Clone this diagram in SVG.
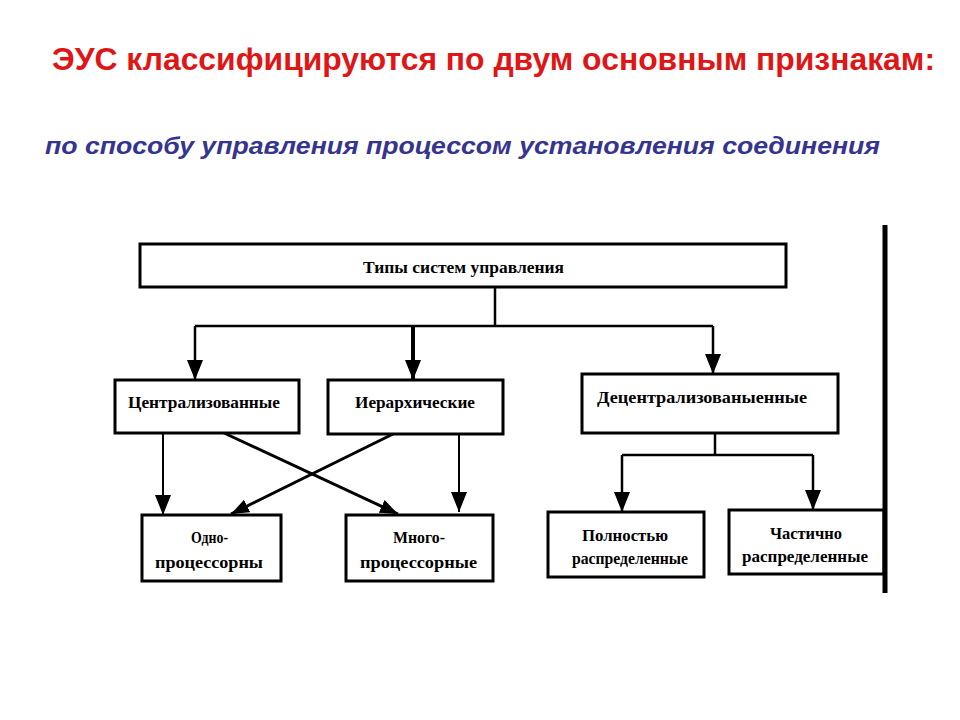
<svg xmlns="http://www.w3.org/2000/svg" width="960" height="720" viewBox="0 0 960 720">
<defs>
<style>
.box{fill:#fff;stroke:#000;stroke-width:3}
.lbl{font-family:"Liberation Serif","Times New Roman",serif;font-weight:bold;font-size:16px;fill:#000}
.con{fill:none;stroke:#000;stroke-width:2.5}
.title{font-family:"Liberation Sans",Arial,sans-serif;font-weight:bold;font-size:31px;fill:#e01515}
.sub{font-family:"Liberation Sans",Arial,sans-serif;font-weight:bold;font-style:italic;font-size:24px;fill:#35358f}
</style>
<marker id="ah" markerUnits="userSpaceOnUse" markerWidth="20" markerHeight="16" refX="20" refY="8" orient="auto" viewBox="0 0 20 16">
<path d="M0,0 L20,8 L0,16 z" fill="#000"/>
</marker>
<marker id="ahs" markerUnits="userSpaceOnUse" markerWidth="18" markerHeight="14" refX="18" refY="7" orient="auto" viewBox="0 0 18 14">
<path d="M0,0 L18,7 L0,14 z" fill="#000"/>
</marker>
</defs>
<rect width="960" height="720" fill="#fff"/>
<text class="title" x="52" y="70" textLength="883" lengthAdjust="spacingAndGlyphs">ЭУС классифицируются по двум основным признакам:</text>
<text class="sub" x="45" y="154" textLength="835" lengthAdjust="spacingAndGlyphs">по способу управления процессом установления соединения</text>

<g id="connectors">
<path class="con" d="M495,288 V326"/>
<path class="con" d="M195,326 H713"/>
<path class="con" d="M195,326 V380" marker-end="url(#ah)"/>
<path class="con" d="M413,326 V380" style="stroke-width:4" marker-end="url(#ah)"/>
<path class="con" d="M713,326 V374" marker-end="url(#ah)"/>
<path class="con" d="M163,433 V515" style="stroke-width:2" marker-end="url(#ah)"/>
<path class="con" d="M459,434 V512" style="stroke-width:2" marker-end="url(#ah)"/>
<path class="con" d="M224,433 L398,514" style="stroke-width:3" marker-end="url(#ahs)"/>
<path class="con" d="M393,434 L231,514" style="stroke-width:3" marker-end="url(#ahs)"/>
<path class="con" d="M715,433 V455"/>
<path class="con" d="M622,455 H813"/>
<path class="con" d="M622,455 V512" marker-end="url(#ah)"/>
<path class="con" d="M813,455 V510" marker-end="url(#ah)"/>
</g>

<g id="root">
<rect class="box" x="140" y="244" width="646" height="43"/>
<text class="lbl" x="363" y="273" textLength="201" lengthAdjust="spacingAndGlyphs">Типы систем управления</text>
</g>
<g id="central">
<rect class="box" x="115" y="380" width="184" height="53"/>
<text class="lbl" x="128" y="408" textLength="152" lengthAdjust="spacingAndGlyphs">Централизованные</text>
</g>
<g id="hier">
<rect class="box" x="328" y="380" width="175" height="54"/>
<text class="lbl" x="355" y="408" textLength="120" lengthAdjust="spacingAndGlyphs">Иерархические</text>
</g>
<g id="decentral">
<rect class="box" x="582" y="374" width="256" height="59"/>
<text class="lbl" x="597" y="403" textLength="210" lengthAdjust="spacingAndGlyphs">Децентрализованыенные</text>
</g>
<g id="uni">
<rect class="box" x="142" y="515" width="139" height="66"/>
<text class="lbl" x="191" y="543" textLength="37" lengthAdjust="spacingAndGlyphs">Одно-</text>
<text class="lbl" x="155" y="568" textLength="108" lengthAdjust="spacingAndGlyphs">процессорны</text>
</g>
<g id="multi">
<rect class="box" x="346" y="515" width="147" height="66"/>
<text class="lbl" x="393" y="543" textLength="52" lengthAdjust="spacingAndGlyphs">Много-</text>
<text class="lbl" x="360" y="568" textLength="117" lengthAdjust="spacingAndGlyphs">процессорные</text>
</g>
<g id="full">
<rect class="box" x="548" y="512" width="156" height="65"/>
<text class="lbl" x="582" y="541" textLength="86" lengthAdjust="spacingAndGlyphs">Полностью</text>
<text class="lbl" x="572" y="564" textLength="116" lengthAdjust="spacingAndGlyphs">распределенные</text>
</g>
<g id="partial">
<rect class="box" x="729" y="510" width="155" height="64"/>
<text class="lbl" x="770" y="539" textLength="72" lengthAdjust="spacingAndGlyphs">Частично</text>
<text class="lbl" x="742" y="562" textLength="126" lengthAdjust="spacingAndGlyphs">распределенные</text>
</g>
<path d="M885,225 V593" stroke="#000" stroke-width="5" fill="none"/>
</svg>
